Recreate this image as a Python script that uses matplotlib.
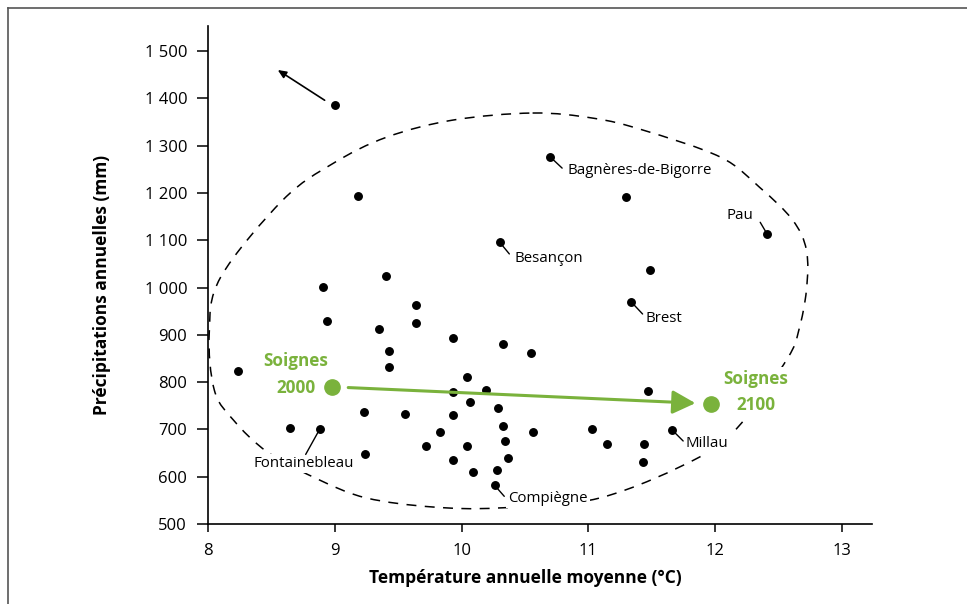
import numpy as np
import matplotlib
matplotlib.use("Agg")
import matplotlib.pyplot as plt
from matplotlib.path import Path
from matplotlib.patches import PathPatch
from matplotlib.lines import Line2D

plt.rcParams['font.family'] = ['Open Sans', 'DejaVu Sans']

# stations with a name on the chart
named_names = ["Bagnères-de-Bigorre", "Besançon", "Pau", "Brest",
               "Millau", "Compiègne", "Fontainebleau"]
named_temp = [10.70, 10.30, 12.41, 11.34, 11.66, 10.26, 8.88]
named_precip = [1276, 1096, 1113, 969, 699, 582, 700]

# the other stations
other_temp = [9.00, 11.30, 9.18, 9.40, 11.49, 8.91, 9.64, 8.94, 9.64, 9.35,
              9.93, 10.33, 10.55, 9.43, 9.43, 8.24, 10.04, 9.93, 10.19, 10.07,
              11.47, 10.29, 9.23, 9.55, 9.93, 10.33, 10.56, 9.83, 11.03, 8.65,
              10.34, 9.72, 10.04, 11.15, 11.44, 10.37, 9.24, 9.93, 10.09, 10.28,
              11.43]
other_precip = [1386, 1191, 1193, 1024, 1037, 1001, 963, 929, 925, 912,
                893, 881, 862, 866, 832, 823, 811, 779, 783, 758,
                781, 745, 737, 733, 730, 707, 695, 695, 701, 703,
                675, 665, 665, 669, 669, 640, 648, 635, 610, 614,
                631]

# Soignes forest, now and projected
soignes_temp = [8.98, 11.97]
soignes_precip = [790, 754]
soignes_labels = ["Soignes\n2000", "Soignes\n2100"]

# arrow for the station off the chart
outlier_from = (8.92, 1396)
outlier_to = (8.55, 1460)

# dashed envelope around the stations (outline points)
env_temp = [10.56, 11.04, 11.43, 12.04, 12.35, 12.61, 12.72, 12.72, 12.66, 12.57,
            12.21, 11.88, 11.09, 10.30, 9.77, 9.25, 8.88, 8.47, 8.20, 8.05,
            8.01, 8.10, 8.59, 8.99, 9.41, 9.93]
env_precip = [1369, 1358, 1333, 1276, 1212, 1143, 1079, 995, 910, 850,
              714, 642, 555, 534, 536, 555, 593, 652, 720, 783,
              905, 1022, 1185, 1263, 1318, 1354]

green = '#7ab23c'

fig = plt.figure(figsize=(9.67, 6.04), dpi=100)
ax = fig.add_axes([208/967, 1-524/604, 664/967, 498/604])

# closed smooth outline (Catmull-Rom -> cubic Bezier)
pts = np.column_stack([env_temp, env_precip])
n = len(pts)
verts = [pts[0]]
codes = [Path.MOVETO]
for i in range(n):
    p0, p1, p2, p3 = pts[i-1], pts[i], pts[(i+1) % n], pts[(i+2) % n]
    verts += [p1 + (p2-p0)/6, p2 - (p3-p1)/6, p2]
    codes += [Path.CURVE4]*3
ax.add_patch(PathPatch(Path(verts, codes), fill=False, ec='black', lw=1.1,
                       ls=(0, (6.5, 5.5)), clip_on=False, zorder=1))

ax.plot(other_temp, other_precip, 'o', color='black', ms=5.4, zorder=3)
ax.plot(named_temp, named_precip, 'o', color='black', ms=5.4, zorder=3)

# leader line end and text offsets (points)
offsets = {
    "Bagnères-de-Bigorre": ((8.5, -8), (12, -10), 'left'),
    "Besançon": ((7, -8.5), (11, -11.5), 'left'),
    "Pau": ((-5, 8.5), (-10, 13.5), 'right'),
    "Brest": ((8, -8.5), (10, -11.5), 'left'),
    "Millau": ((8, -8), (10, -10), 'left'),
    "Compiègne": ((7, -8), (10, -9.5), 'left'),
    "Fontainebleau": ((-10, -18), (-11.5, -24.5), 'center'),
}
box = dict(boxstyle='square,pad=0.15', fc='white', ec='none')
for name, t, p in zip(named_names, named_temp, named_precip):
    (lx, ly), (tx, ty), ha = offsets[name]
    ax.annotate(name, xy=(t, p), xytext=(tx, ty), textcoords='offset points',
                ha=ha, va='center', fontsize=10.8, bbox=box, zorder=2)
    ax.annotate("", xy=(t, p), xytext=(lx, ly), textcoords='offset points',
                arrowprops=dict(arrowstyle='-', color='black', lw=1.0,
                                shrinkA=0, shrinkB=2.5), zorder=2.5)

# outlier arrow
ax.annotate("", xy=outlier_to, xytext=outlier_from,
            arrowprops=dict(arrowstyle='-|>,head_length=0.5,head_width=0.22',
                            color='black', lw=1.2, shrinkA=0, shrinkB=0))

# Soignes
ax.plot(soignes_temp, soignes_precip, 'o', color=green, ms=11, zorder=4)
ax.annotate("", xy=(soignes_temp[1], soignes_precip[1]),
            xytext=(soignes_temp[0], soignes_precip[0]),
            arrowprops=dict(arrowstyle='-|>,head_length=0.7,head_width=0.36',
                            color=green, lw=2.2, shrinkA=11.5, shrinkB=11.5,
                            mutation_scale=20), zorder=4)
ax.annotate(soignes_labels[0], xy=(soignes_temp[0], soignes_precip[0]),
            xytext=(-26, 9), textcoords='offset points', ha='center',
            va='center', fontsize=12.3, fontweight='bold', color=green,
            linespacing=1.6, bbox=box, zorder=2)
ax.annotate(soignes_labels[1], xy=(soignes_temp[1], soignes_precip[1]),
            xytext=(32, 8.6), textcoords='offset points', ha='center',
            va='center', fontsize=12.3, fontweight='bold', color=green,
            linespacing=1.6, bbox=box, zorder=2)

ax.set_xlim(8, 13.237)
ax.set_ylim(500, 1553)
ax.set_xticks(range(8, 14))
yt = list(range(500, 1600, 100))
ax.set_yticks(yt)
ax.set_yticklabels([f"{v:,}".replace(",", " ") for v in yt])
for s in ['top', 'right']:
    ax.spines[s].set_visible(False)
for s in ['left', 'bottom']:
    ax.spines[s].set_linewidth(1.2)
ax.tick_params(axis='y', length=8, width=1.1, pad=7, labelsize=12)
ax.tick_params(axis='x', length=6, width=1.1, pad=8, labelsize=12)

ax.set_xlabel("Température annuelle moyenne (°C)", fontsize=12.5,
              fontweight='bold', va='center')
ax.xaxis.set_label_coords(0.4774, -0.108)
ax.set_ylabel("Précipitations annuelles (mm)", fontsize=12.5,
              fontweight='bold', va='center')
ax.yaxis.set_label_coords(-0.1596, 0.48)

# frame lines at top and left of the picture
fig.add_artist(Line2D([8/967, 1], [1-8/604, 1-8/604], transform=fig.transFigure,
                      color='#555555', lw=1.2))
fig.add_artist(Line2D([8/967, 8/967], [0, 1-8/604], transform=fig.transFigure,
                      color='#555555', lw=1.2))

fig.savefig("out.png", dpi=100)
